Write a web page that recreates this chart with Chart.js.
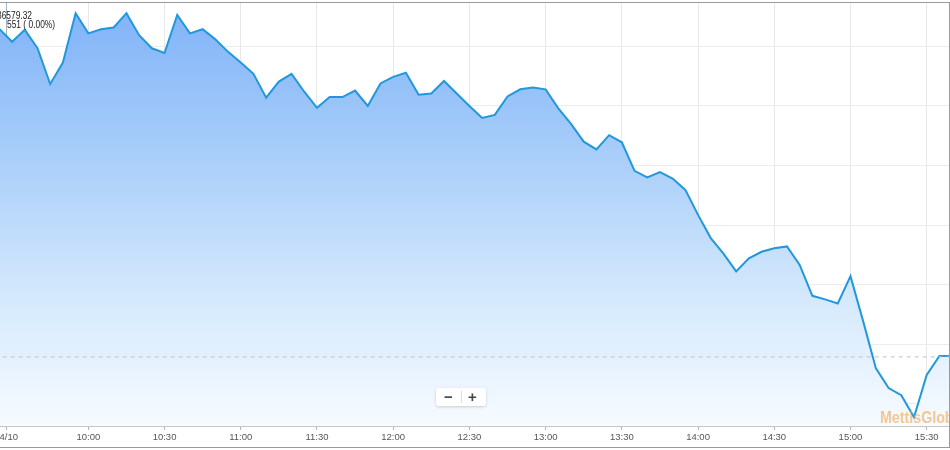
<!DOCTYPE html>
<html>
<head>
<meta charset="utf-8">
<script src="https://cdn.jsdelivr.net/npm/chart.js@4.4.1/dist/chart.umd.min.js"></script>
<style>
  html, body { margin: 0; padding: 0; background: #fff; }
  #wrap { position: relative; width: 950px; height: 450px; overflow: hidden; }
  canvas { position: absolute; left: 0; top: 0; }
  .tip { position: absolute; font-family: 'Liberation Sans', Arial, sans-serif; font-size: 10px; color: #222; white-space: nowrap; line-height: 10px; transform: scaleX(0.84); transform-origin: 0 0; }
  #wm { position: absolute; left: 880px; top: 410px; font-family: 'Liberation Sans', Arial, sans-serif; font-weight: bold; font-size: 16px; color: rgba(242,166,80,0.62); white-space: nowrap; line-height: 16px; pointer-events: none; transform: scaleX(0.89); transform-origin: 0 0; }
  #zoom { position: absolute; left: 436px; top: 388px; width: 50px; height: 18px; background: #fff; border-radius: 3px; box-shadow: 0 1px 3px rgba(0,0,0,0.18); font-family: 'Liberation Sans', Arial, sans-serif; font-weight: bold; font-size: 15px; color: #444; }
  #zoom span { position: absolute; top: 0; line-height: 18px; }
  #zoom .sep { position: absolute; left: 25px; top: 3px; width: 1px; height: 12px; background: #ddd; }
</style>
</head>
<body>
<div id="wrap">
  <canvas id="c" width="950" height="450"></canvas>
  <div class="tip" style="left:-3px; top:11px;">36579.32</div>
  <div class="tip" style="left:7px; top:20px;">551 ( 0.00%)</div>
  <div id="wm">MettisGlobal</div>
  <div id="zoom"><span style="left:8px;">−</span><div class="sep"></div><span style="left:32px;">+</span></div>
</div>
<script>
// ---- data ----
const times = ['09:25','09:30','09:35','09:40','09:45','09:50','09:55','10:00','10:05','10:10','10:15','10:20','10:25','10:30','10:35','10:40','10:45','10:50','10:55','11:00','11:05','11:10','11:15','11:20','11:25','11:30','11:35','11:40','11:45','11:50','11:55','12:00','12:05','12:10','12:15','12:20','12:25','12:30','12:35','12:40','12:45','12:50','12:55','13:00','13:05','13:10','13:15','13:20','13:25','13:30','13:35','13:40','13:45','13:50','13:55','14:00','14:05','14:10','14:15','14:20','14:25','14:30','14:35','14:40','14:45','14:50','14:55','15:00','15:05','15:10','15:15','15:20','15:25','15:30','15:35','15:40'];
const values = [36579.32,36558,36578,36547,36487,36523,36606,36572,36579,36582,36606,36569,36547,36539,36603,36572,36579,36562,36541,36523,36504,36464,36491,36504,36474,36447,36465,36465,36476,36450,36488,36499,36506,36469,36471,36492,36471,36450,36430,36435,36466,36478,36481,36478,36446,36420,36390,36377,36401,36389,36341,36330,36339,36328,36309,36267,36228,36202,36172,36194,36205,36211,36214,36183,36131,36125,36118,36164,36088,36009,35976,35964,35927,35998,36030,36030];
const prevClose = 36028.32;
const tickTimes = ['09:27:40','10:00','10:30','11:00','11:30','12:00','12:30','13:00','13:30','14:00','14:30','15:00','15:30'];
const tickLabels = ['04/10','10:00','10:30','11:00','11:30','12:00','12:30','13:00','13:30','14:00','14:30','15:00','15:30'];
const yTicks = [35950,36050,36150,36250,36350,36450,36550];

function toMin(t){ const p=t.split(':').map(Number); return p[0]*60+p[1]+(p[2]||0)/60; }
const pts = times.map((t,i)=>({x:toMin(t), y:values[i]}));
const tickMins = tickTimes.map(toMin);

Chart.defaults.font.family = "'Liberation Sans', Arial, sans-serif";

const frame = {
  id: 'frame',
  afterDraw(chart){
    const c = chart.ctx;
    c.save();
    c.strokeStyle = '#9a9a9a';
    c.lineWidth = 1;
    c.beginPath();
    c.moveTo(0, 2.5); c.lineTo(950, 2.5);
    c.moveTo(0, 447.5); c.lineTo(950, 447.5);
    c.moveTo(949.5, 2.5); c.lineTo(949.5, 447.5);
    c.stroke();
    c.restore();
  }
};

new Chart(document.getElementById('c'), {
  type: 'line',
  data: {
    datasets: [
      {
        data: [{x:560, y:prevClose},{x:945, y:prevClose}],
        borderColor: '#c2c2c2', borderWidth: 1, borderDash: [4,4],
        pointRadius: 0, fill: false, order: 0
      },
      {
        data: pts,
        borderColor: '#2198dc', borderWidth: 2, pointRadius: 0, tension: 0,
        fill: 'start', order: 1,
        backgroundColor: (ctx) => {
          const ch = ctx.chart; const a = ch.chartArea;
          if (!a) return 'rgba(0,0,0,0)';
          const g = ch.ctx.createLinearGradient(0, a.top, 0, a.bottom);
          g.addColorStop(0, '#7fb2f8');
          g.addColorStop(0.35, '#a7cdf9');
          g.addColorStop(0.7, '#d5e9fc');
          g.addColorStop(1, '#f7fbff');
          return g;
        }
      }
    ]
  },
  options: {
    responsive: false,
    animation: false,
    devicePixelRatio: 1,
    layout: { autoPadding: false, padding: { top: 3, left: 0, right: 0, bottom: 0 } },
    plugins: { legend: { display: false }, tooltip: { enabled: false } },
    scales: {
      x: {
        type: 'linear',
        min: 565.24, max: 939.17,
        afterBuildTicks: (s) => { s.ticks = tickMins.map(v => ({ value: v })); },
        afterFit: (s) => { s.height = 24; s.paddingLeft = 0; s.paddingRight = 0; },
        ticks: {
          autoSkip: false, maxRotation: 0, padding: 2,
          color: '#555', font: { size: 9.5 },
          callback: (v, i) => tickLabels[i]
        },
        grid: {
          color: (ctx) => ctx.index === 0 ? '#a7b4c6' : '#e8e8e8',
          tickColor: '#b5b5b5', tickLength: 4, lineWidth: 1
        },
        border: { color: '#c6c6c6' }
      },
      y: {
        min: 35912.2, max: 36623.1,
        afterBuildTicks: (s) => { s.ticks = yTicks.map(v => ({ value: v })); },
        afterFit: (s) => { s.width = 0; s.paddingTop = 0; s.paddingBottom = 0; },
        ticks: { display: false },
        grid: { color: '#ececec', drawTicks: false },
        border: { display: false }
      }
    }
  },
  plugins: [frame]
});
</script>
</body>
</html>
